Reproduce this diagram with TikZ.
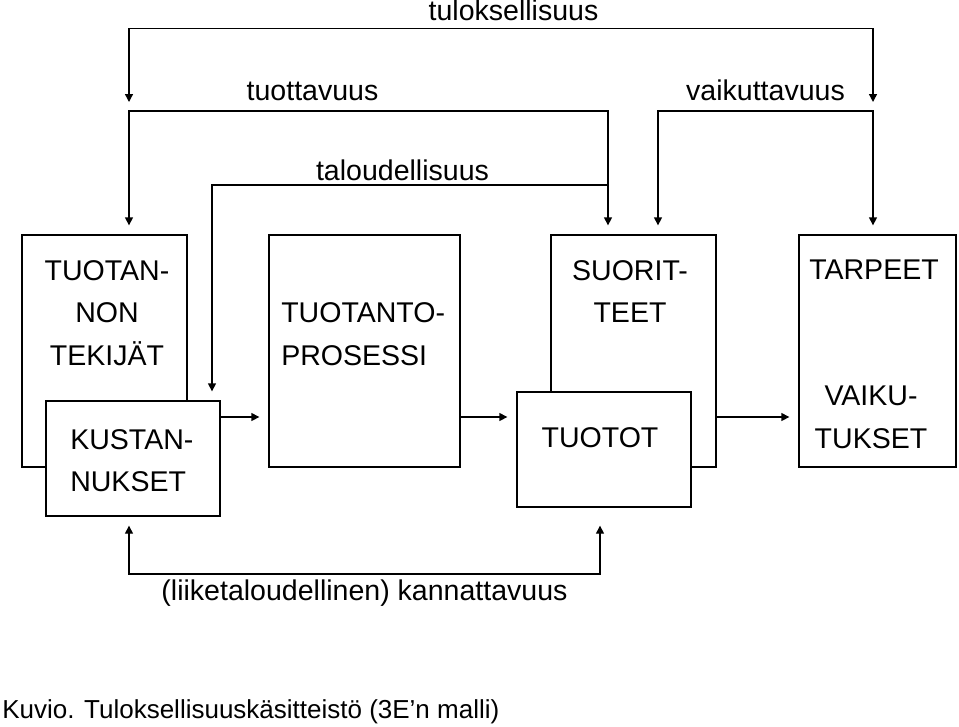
\documentclass[tikz,border=0pt]{standalone}
\usepackage{fontspec}
\setmainfont{Liberation Sans}
\usetikzlibrary{arrows.meta}

\begin{document}
\begin{tikzpicture}[x=0.75pt,y=0.75pt,yscale=-1,xscale=1,
  every node/.style={inner sep=0pt, font=\fontsize{21.4}{32}\selectfont},
  kehys/.style={draw, line width=1pt, minimum height=174pt},
  pieni/.style={draw, fill=white, line width=1pt, minimum height=86.25pt},
  nuoli/.style={line width=1pt, -{Triangle[length=6pt,width=6pt]}, shorten >=6.75pt},
  molemmat/.style={line width=1pt, {Triangle[length=6pt,width=6pt]}-{Triangle[length=6pt,width=6pt]}, shorten <=6.75pt, shorten >=6.75pt}]
\path[use as bounding box] (0,0) rectangle (959,726);

%Shape: Rectangle [tekijat]
\node (tekijat) [kehys, minimum width=123.75pt] at (104.5,351) {};
%Shape: Rectangle [prosessi]
\node (prosessi) [kehys, minimum width=143.25pt] at (364.5,351) {};
%Shape: Rectangle [suor]
\node (suor) [kehys, minimum width=123.75pt] at (633.5,351) {};
%Shape: Rectangle [tarpeet]
\node (tarpeet) [kehys, minimum width=117.75pt] at (877.5,351) {};

% Text Node
\node (tekijatTeksti) [align=center] at (107,313) {TUOTAN-\\NON\\TEKIJÄT};
% Text Node
\node (prosessiTeksti) [align=left, anchor=west] at (281,334) {TUOTANTO-\\PROSESSI};
% Text Node
\node (suorTeksti) [align=center] at (630,291.5) {SUORIT-\\TEET};
% Text Node
\node (tarpeetTeksti) at (874,270) {TARPEET};
% Text Node
\node (vaikutTeksti) [align=center] at (871,417.5) {VAIKU-\\TUKSET};

%Shape: Rectangle [kust]
\node (kust) [pieni, minimum width=130.5pt] at (133,458.5) {};
%Shape: Rectangle [tuotot]
\node (tuotot) [pieni, minimum width=130.5pt] at (604,449.5) {};
% Text Node
\node (kustTeksti) [align=left, anchor=west] at (70,460.5) {KUSTAN-\\NUKSET};
% Text Node
\node (tuototTeksti) at (600,438) {TUOTOT};

%Corners of the brackets
\coordinate (tuotV) at (129,111);
\coordinate (tuotO) at (608,111);
\coordinate (vaikV) at (658,111);
\coordinate (vaikO) at (873,111);
\coordinate (taloV) at (212,185);
\coordinate (taloO) at (608,185);
\coordinate (tulosY) at (500,28.5);
\coordinate (kannV) at (129,574);
\coordinate (kannO) at (600,574);
\coordinate (virta) at (0,417);

%Straight Lines: tuloksellisuus
\draw[molemmat] (tuotV) |- (tulosY) -| (vaikO);
%Straight Lines: tuottavuus
\draw[molemmat] (tuotV |- tekijat.north) -- (tuotV) -| (tuotO |- suor.north);
%Straight Lines: vaikuttavuus
\draw[molemmat] (vaikV |- suor.north) |- (vaikO) -- (vaikO |- tarpeet.north);
%Straight Lines: taloudellisuus
\draw[nuoli] (taloO) -| (taloV |- kust.north);
%Straight Lines: kannattavuus
\draw[molemmat, shorten >=13.5pt] (kannV |- kust.south) -- (kannV) -| (kannO |- tuotot.south);

%Straight Lines: flow to the right
\draw[nuoli] (kust.east |- virta) -- (prosessi.west |- virta);
\draw[nuoli] (prosessi.east |- virta) -- (tuotot.west |- virta);
\draw[nuoli] (suor.east |- virta) -- (tarpeet.west |- virta);

% Text Node
\node (tulosTeksti) [anchor=base] at (513.5,20.5) {tuloksellisuus};
% Text Node
\node (tuotTeksti) [anchor=base] at (312.5,100) {tuottavuus};
% Text Node
\node (vaikTeksti) [anchor=base] at (765.5,100) {vaikuttavuus};
% Text Node
\node (taloTeksti) [anchor=base] at (402.5,180) {taloudellisuus};
% Text Node
\node (kannTeksti) [anchor=base] at (364.5,600) {(liiketaloudellinen) kannattavuus};
% Text Node
\node (kuvio) [anchor=base west, font=\fontsize{19.5}{24}\selectfont] at (2,718) {Kuvio. Tuloksellisuuskäsitteistö (3E’n malli)};

\end{tikzpicture}
\end{document}
